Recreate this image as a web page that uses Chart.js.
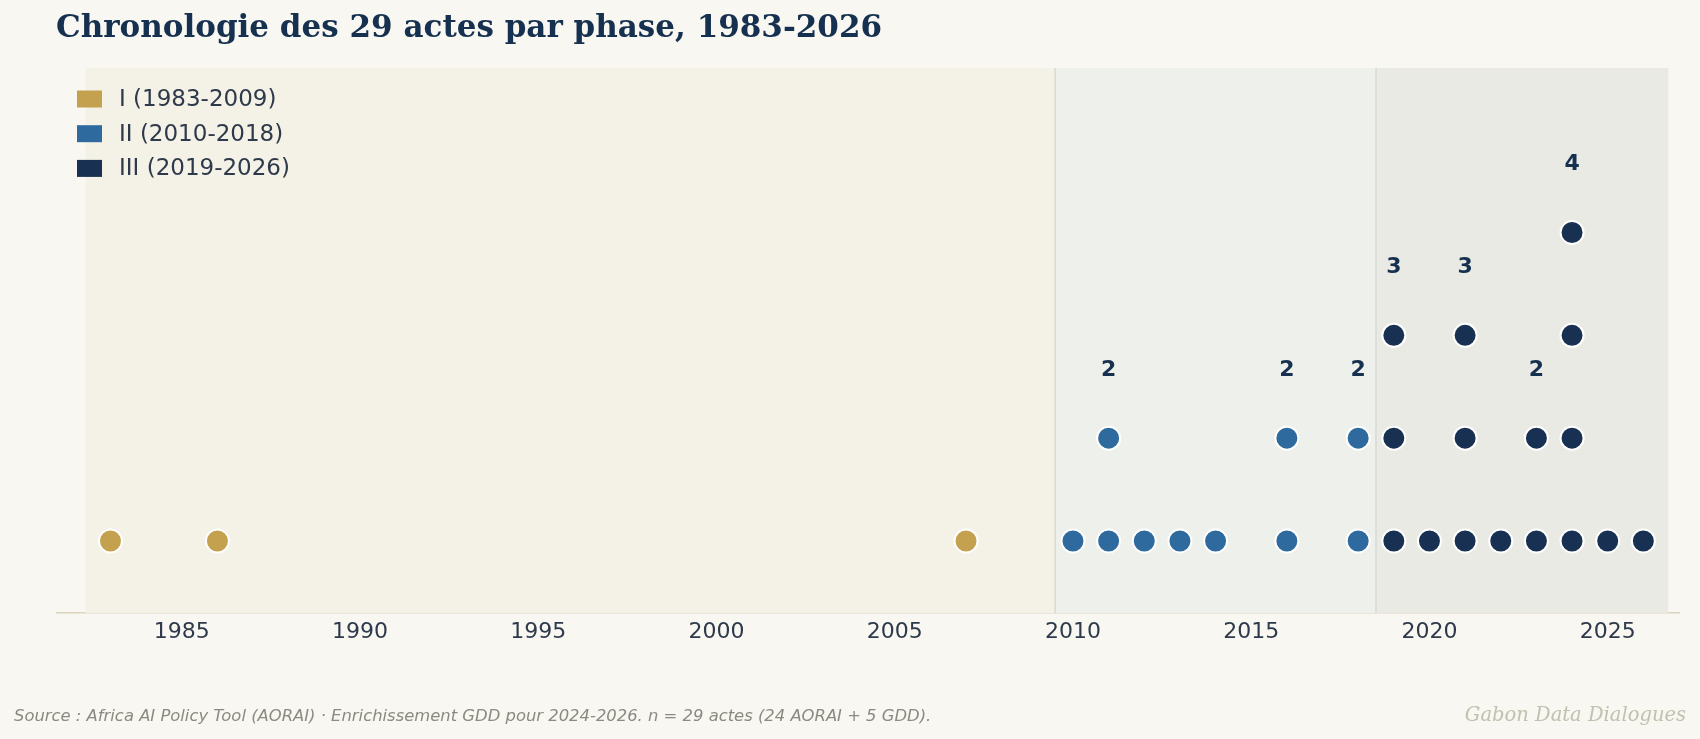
<!DOCTYPE html>
<html lang="fr">
<head>
  <meta charset="UTF-8" />
  <title>Chronologie des 29 actes par phase</title>
  <script src="https://cdn.jsdelivr.net/npm/chart.js"></script>
  <style>
    html, body { margin: 0; padding: 0; background: #F8F7F2; }
    #wrap { position: relative; width: 1700px; height: 739px; overflow: hidden; }
    #title {
      position: absolute; left: 56px; top: 8px;
      font-family: 'DejaVu Serif', serif; font-weight: bold; font-size: 31px;
      color: #16304F; white-space: nowrap;
    }
    #source {
      position: absolute; left: 14px; top: 706px;
      font-family: 'DejaVu Sans', sans-serif; font-style: italic; font-size: 16.4px;
      color: #8A8A80; white-space: nowrap;
    }
    #brand {
      position: absolute; right: 14px; top: 703px;
      font-family: 'DejaVu Serif', serif; font-style: italic; font-size: 19.5px;
      color: #C2C0AE; white-space: nowrap;
    }
    canvas { position: absolute; left: 0; top: 0; }
  </style>
</head>
<body>
  <div id="wrap">
    <canvas id="chart" width="1700" height="739"></canvas>
    <div id="title">Chronologie des 29 actes par phase, 1983-2026</div>
    <div id="source">Source : Africa AI Policy Tool (AORAI) · Enrichissement GDD pour 2024-2026. n = 29 actes (24 AORAI + 5 GDD).</div>
    <div id="brand">Gabon Data Dialogues</div>
  </div>

  <script>
    // number of acts per year, by phase
    const phaseLabels = ['I (1983-2009)', 'II (2010-2018)', 'III (2019-2026)'];
    const phaseColors = ['#C3A14F', '#2E6A9E', '#183152'];
    const phaseShades = ['#F4F1E6', '#EEF0EC', '#EAEAE5'];
    const phaseBounds = [[1982.3, 2009.5], [2009.5, 2018.5], [2018.5, 2026.7]];

    const phase1Years = [1983, 1986, 2007];
    const phase1Counts = [1, 1, 1];
    const phase2Years = [2010, 2011, 2012, 2013, 2014, 2016, 2018];
    const phase2Counts = [1, 2, 1, 1, 1, 2, 2];
    const phase3Years = [2019, 2020, 2021, 2022, 2023, 2024, 2025, 2026];
    const phase3Counts = [3, 1, 3, 1, 2, 4, 1, 1];

    const tickYears = [1985, 1990, 1995, 2000, 2005, 2010, 2015, 2020, 2025];

    // stack one dot per act
    function stack(years, counts) {
      const pts = [];
      years.forEach((yr, i) => {
        for (let k = 1; k <= counts[i]; k++) pts.push({ x: yr, y: k });
      });
      return pts;
    }

    const allYears = [phase1Years, phase2Years, phase3Years];
    const allCounts = [phase1Counts, phase2Counts, phase3Counts];

    const phasePlugin = {
      id: 'phases',
      beforeDatasetsDraw(chart) {
        const { ctx, chartArea, scales } = chart;
        const x = scales.x;
        ctx.save();
        phaseBounds.forEach((b, i) => {
          const x0 = x.getPixelForValue(b[0]);
          const x1 = x.getPixelForValue(b[1]);
          ctx.fillStyle = phaseShades[i];
          ctx.fillRect(x0, chartArea.top, x1 - x0, chartArea.bottom - chartArea.top);
        });
        ctx.strokeStyle = '#D6DAD6';
        ctx.lineWidth = 1.5;
        [2009.5, 2018.5].forEach(v => {
          const px = x.getPixelForValue(v);
          ctx.beginPath();
          ctx.moveTo(px, chartArea.top);
          ctx.lineTo(px, chartArea.bottom);
          ctx.stroke();
        });
        ctx.restore();
      },
      afterDatasetsDraw(chart) {
        const { ctx, scales } = chart;
        ctx.save();
        // count labels above stacks of 2+
        ctx.font = 'bold 22px "DejaVu Sans"';
        ctx.fillStyle = '#16304F';
        ctx.textAlign = 'center';
        ctx.textBaseline = 'middle';
        allYears.forEach((years, p) => {
          years.forEach((yr, i) => {
            const c = allCounts[p][i];
            if (c < 2) return;
            ctx.fillText(String(c), scales.x.getPixelForValue(yr), scales.y.getPixelForValue(c + 0.66));
          });
        });
        // legend
        ctx.font = '23px "DejaVu Sans"';
        ctx.textAlign = 'left';
        phaseLabels.forEach((lab, i) => {
          const cy = 99 + i * 34.7;
          ctx.fillStyle = phaseColors[i];
          ctx.fillRect(77, cy - 8.5, 25, 17);
          ctx.fillStyle = '#2E3A4B';
          ctx.fillText(lab, 119, cy + 1);
        });
        ctx.restore();
      }
    };

    new Chart(document.getElementById('chart'), {
      type: 'scatter',
      data: {
        datasets: phaseLabels.map((lab, i) => ({
          label: lab,
          data: stack(allYears[i], allCounts[i]),
          backgroundColor: phaseColors[i],
          borderColor: '#FFFFFF',
          borderWidth: 2,
          pointRadius: 11.5,
          pointHoverRadius: 11.5
        }))
      },
      options: {
        responsive: false,
        animation: false,
        layout: { padding: { left: 57, right: 21, top: 68, bottom: 86 } },
        plugins: { legend: { display: false }, tooltip: { enabled: false } },
        scales: {
          x: {
            type: 'linear',
            min: 1981.5,
            max: 2027,
            afterBuildTicks: s => { s.ticks = tickYears.map(v => ({ value: v })); },
            afterFit: s => { s.height = 40; },
            grid: { display: false, drawTicks: false },
            border: { display: true, color: '#DCD3C0', width: 1.5 },
            ticks: {
              padding: 6,
              color: '#2E3A4B',
              font: { family: 'DejaVu Sans', size: 22 },
              callback: v => String(v)
            }
          },
          y: {
            display: false,
            min: 0.3,
            max: 5.6
          }
        }
      },
      plugins: [phasePlugin]
    });
  </script>
</body>
</html>
